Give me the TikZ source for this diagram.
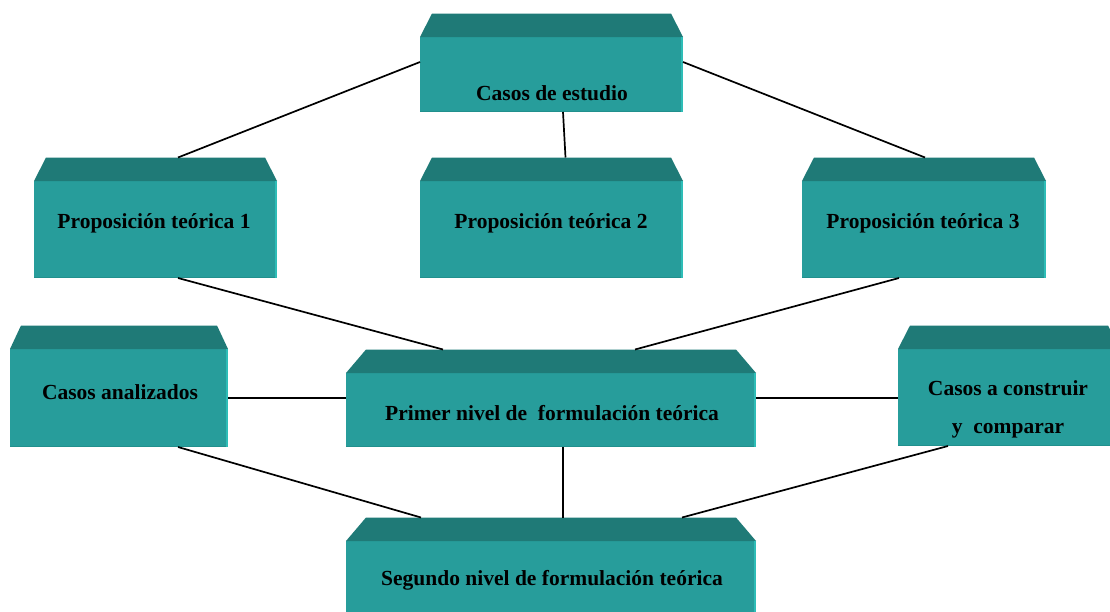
\documentclass[tikz,border=0pt]{standalone}
\usepackage{fontspec}
\setmainfont{Liberation Serif}
\usetikzlibrary{calc}
\definecolor{frontc}{HTML}{279D9B}
\definecolor{bevelc}{HTML}{1F7A77}
\definecolor{lightc}{HTML}{2EBDB7}
\definecolor{darkc}{HTML}{21908D}
\tikzset{
  conn/.style={draw=black, line width=1.7pt},
  lbl/.style={font=\fontsize{21.5}{25}\selectfont\bfseries, text=black, inner sep=0pt, align=center},
}
% #1 name, #2 x1, #3 y1, #4 x2, #5 y2, #6 bevel inset
\newcommand\tbox[6]{%
  \pgfmathsetmacro\bw{#4-#2}\pgfmathsetmacro\bh{#5-#3}%
  \node[fill=frontc, inner sep=0pt, outer sep=0pt, minimum width=\bw pt, minimum height=\bh pt]
    (#1) at ({(#2+#4)/2},{(#3+#5)/2}) {};
  \fill[bevelc] (#1.north west) -- ++(#6,-23.5) -- ($(#1.north east)+(-#6,-23.5)$) -- (#1.north east) -- cycle;
  \fill[lightc] ($(#1.north east)+(-2.2,0)$) rectangle (#1.south east);
  \fill[darkc] ($(#1.south west)+(0,-1.5)$) rectangle ($(#1.south east)+(-2.2,0)$);
}
\begin{document}
\begin{tikzpicture}[x=1pt,y=-1pt]
\clip (0,0) rectangle (1110,611);
\useasboundingbox (0,0) rectangle (1110,611);
\fill[white] (0,0) rectangle (1110,611);

\tbox{ce}{420}{37}{683}{112}{12}
\tbox{p1}{34}{181}{277}{278}{12}
\tbox{p2}{420}{181}{683}{278}{12}
\tbox{p3}{802}{181}{1046}{278}{12}
\tbox{ca}{10}{349}{228}{447}{11}
\tbox{pn}{346}{373}{756}{447}{20}
\tbox{cc}{898}{349}{1120}{446}{12}
\tbox{sn}{346}{541}{756}{614}{20}

% connectors
\draw[conn] ($(ce.west)+(0,-12.5)$) -- ($(p1.north)+(22.5,-23.5)$);
\draw[conn] ($(ce.east)+(0,-12.5)$) -- ($(p3.north)+(1,-23.5)$);
\draw[conn] ($(ce.south)+(11.5,0)$) -- ($(p2.north)+(14,-23.5)$);
\draw[conn] ($(p1.south)+(22.5,0)$) -- ($(pn.north)+(-108,-23.5)$);
\draw[conn] ($(p3.south)+(-25,0)$) -- ($(pn.north)+(84,-23.5)$);
\draw[conn] (ca.east) -- ($(pn.west)+(0,-12)$);
\draw[conn] ($(pn.east)+(0,-12)$) -- ($(cc.west)+(0,0.5)$);
\draw[conn] ($(ca.south)+(59,0)$) -- ($(sn.north)+(-130,-23.5)$);
\draw[conn] ($(pn.south)+(12,0)$) -- ($(sn.north)+(12,-23.5)$);
\draw[conn] ($(cc.south)+(-61,0)$) -- ($(sn.north)+(131,-23.5)$);

% labels
\node[lbl] (tce) at (552,93) {Casos de estudio};
\node[lbl] (tp1) at (154,223) {Proposición teórica 1};
\node[lbl] (tp2) at (551,223) {Proposición teórica 2};
\node[lbl] (tp3) at (923,223) {Proposición teórica 3};
\node[lbl] (tca) at (120,392) {Casos analizados};
\node[lbl] (tpn) at (552,413) {Primer nivel de\ \ formulación teórica};
\node[lbl] (tcc) at (1008,409) {Casos a construir\\[13pt]y\ \ comparar};
\node[lbl] (tsn) at (552,580) {Segundo nivel de formulación teórica};
\end{tikzpicture}
\end{document}
